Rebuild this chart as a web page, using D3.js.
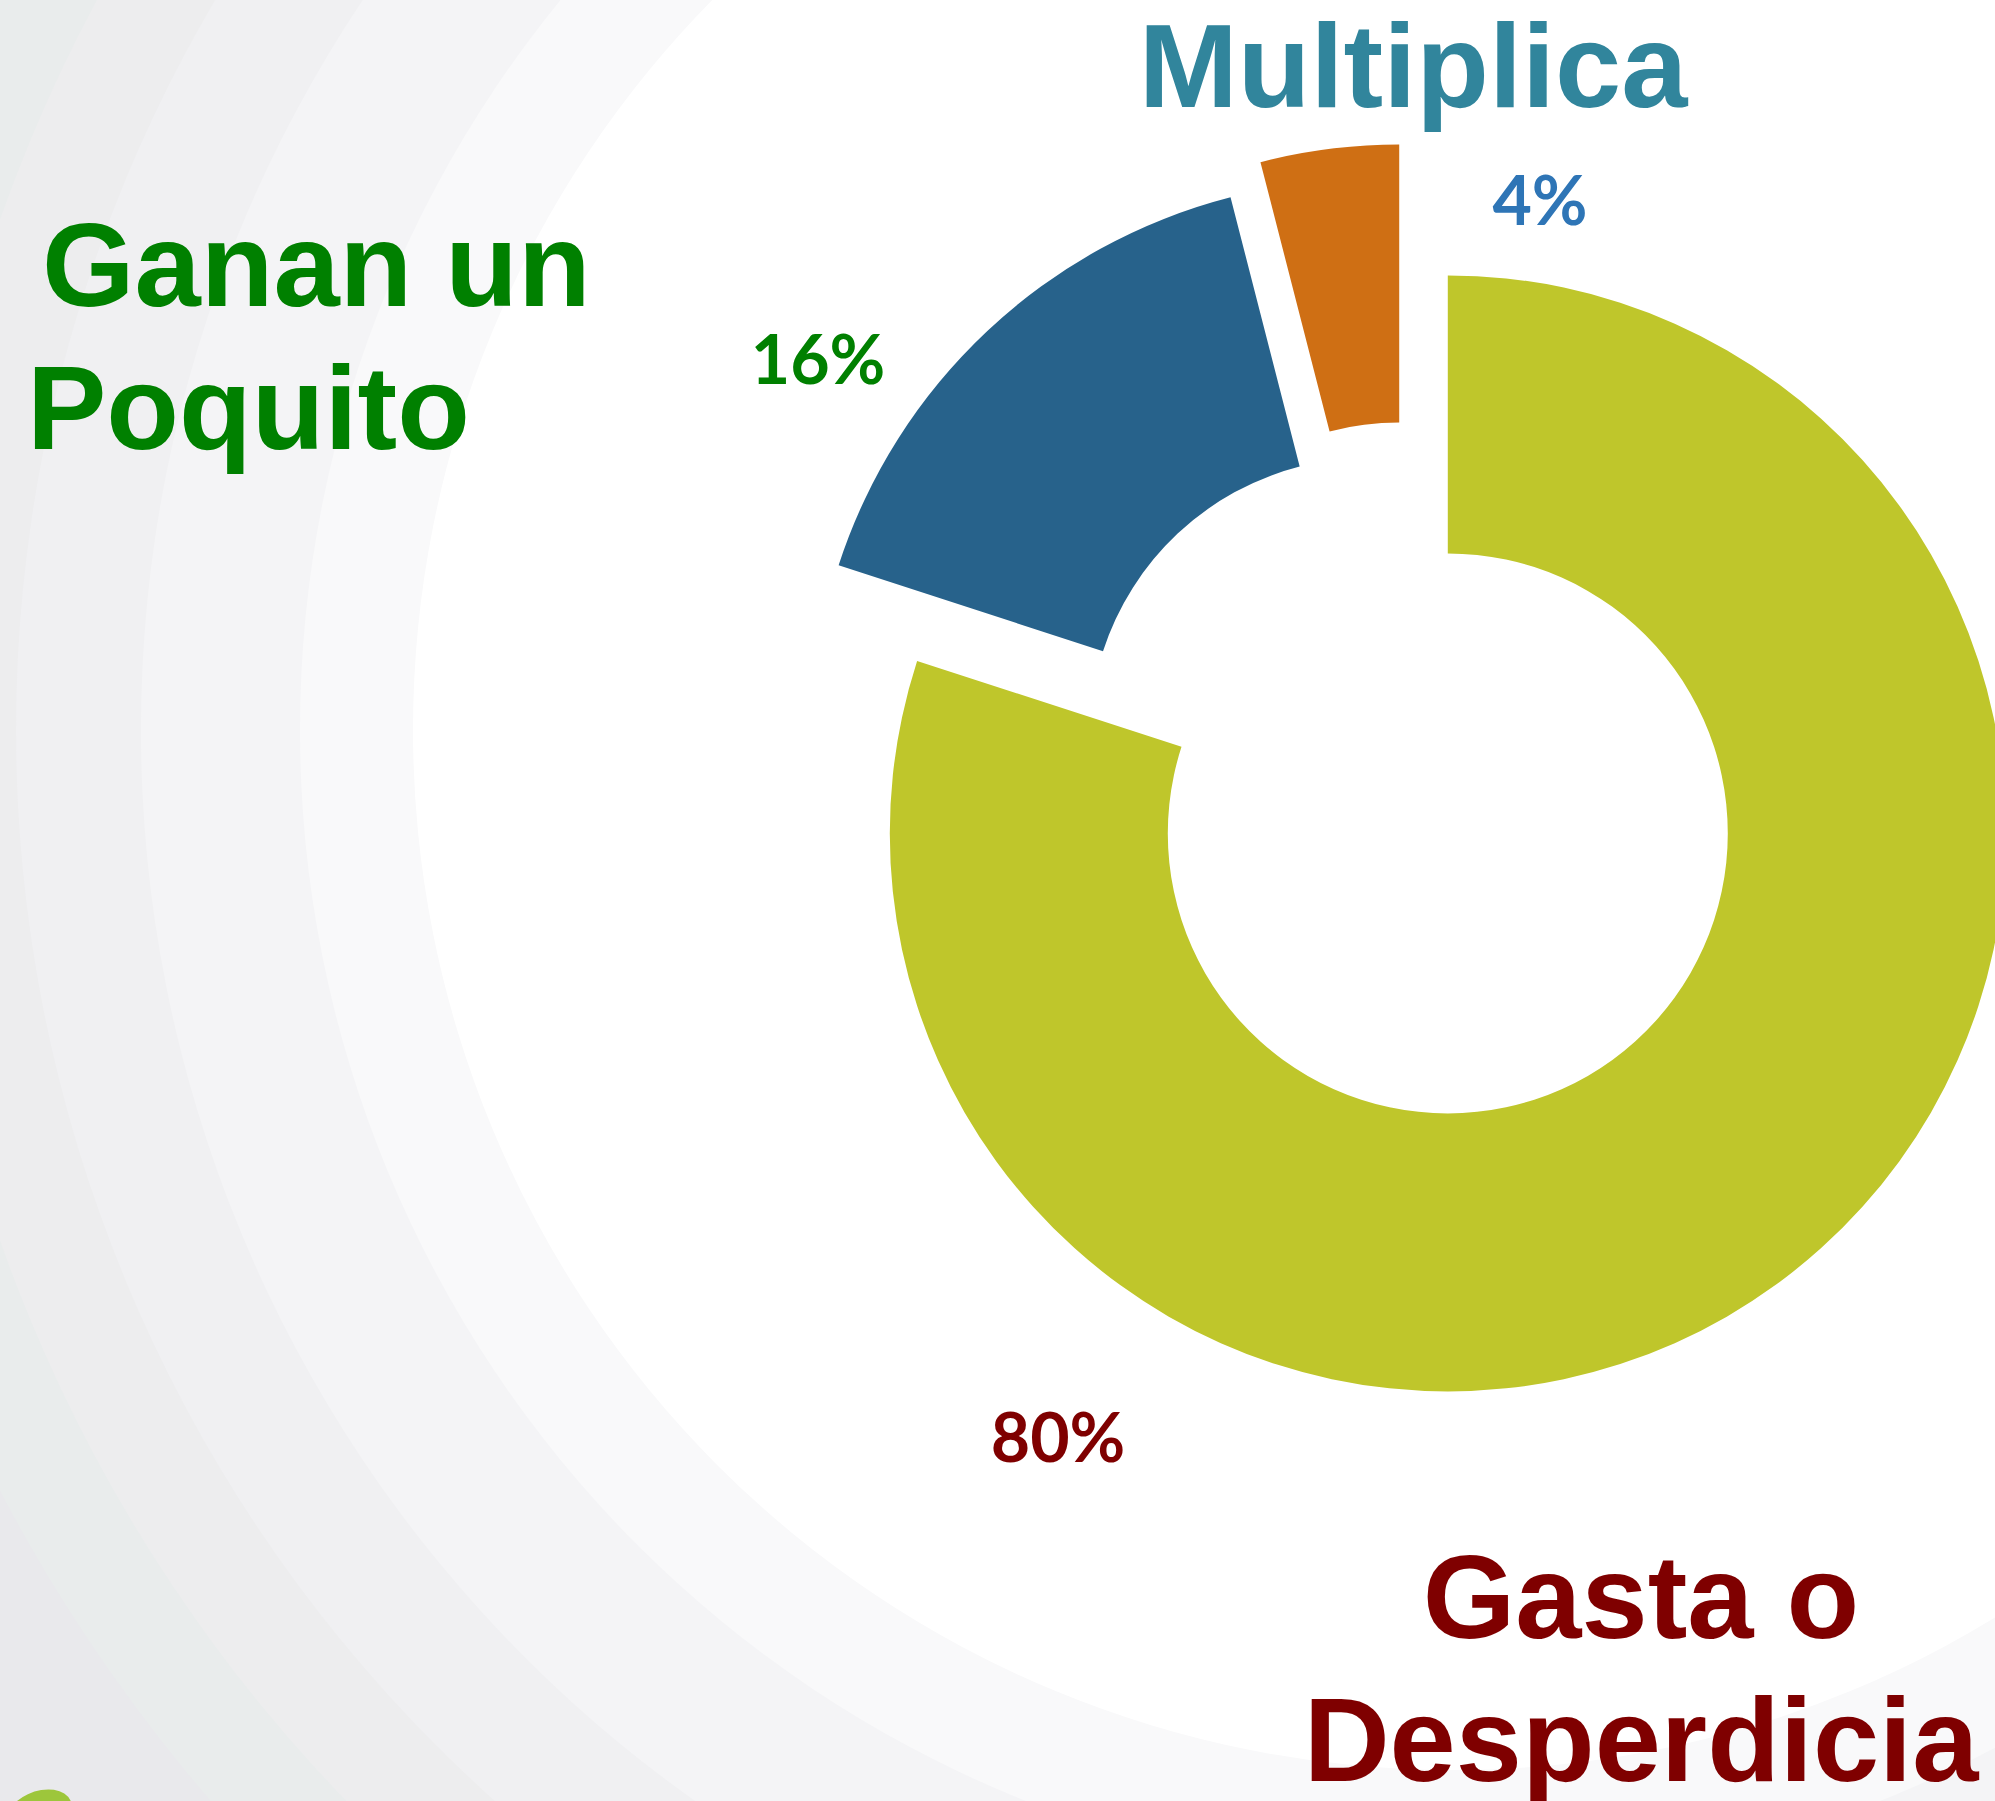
<!DOCTYPE html>
<html>
<head>
<meta charset="utf-8">
<script src="https://cdn.jsdelivr.net/npm/d3@7"></script>
<style>
    body { margin: 0; overflow: hidden; background: #ffffff; }
    #chart svg { display: block; }
</style>
</head>
<body>
<div id="chart"></div>
<script>
// Data (slice order = clockwise from 12 o'clock)
const categories = ["Gasta o Desperdicia", "Ganan un Poquito", "Multiplica"];
const values = [80, 16, 4];
const percentLabels = ["80%", "16%", "4%"];
const categoryLines = [["Gasta o", "Desperdicia"], ["Ganan un", "Poquito"], ["Multiplica"]];

// Styling
const sliceColors = ["#bfc62b", "#27628b", "#cf6f14"];
const percentColors = ["#7f0000", "#008000", "#2e75b6"];
const categoryColors = ["#7f0000", "#008000", "#31859c"];

const width = 1995, height = 1801;
const center = { x: 1409, y: 780 };
const outerRadius = 558, innerRadius = 280;
const explode = [66, 58, 78];   // pulled-out distance of each slice

// Label anchors (percentages and category titles)
const percentPos = [{ x: 1058, y: 1462 }, { x: 818, y: 384 }, { x: 1540, y: 225 }];
const categoryPos = [
    { x: 1641, y: 1638, anchor: "middle", dx: [0, 0] },
    { x: 27, y: 306, anchor: "start", dx: [15, 0] },
    { x: 1413, y: 107, anchor: "middle", dx: [0] }
];
const lineHeight = 143;

const svg = d3.select("#chart")
    .append("svg")
    .attr("width", width)
    .attr("height", height);

// Background: soft concentric bands
const bgCenter = { x: 1453, y: 730 };
const rings = [
    { r: 2100, fill: "#e9e9ec" },
    { r: 1640, fill: "#e9ecec" },
    { r: 1540, fill: "#ededee" },
    { r: 1437, fill: "#f0f0f2" },
    { r: 1312, fill: "#f4f4f6" },
    { r: 1153, fill: "#f9f9fa" },
    { r: 1040, fill: "#ffffff" }
];
svg.append("g")
    .selectAll("circle")
    .data(rings)
    .join("circle")
    .attr("cx", bgCenter.x)
    .attr("cy", bgCenter.y)
    .attr("r", d => d.r)
    .attr("fill", d => d.fill);

// little green leaf peeking in the bottom-left corner
svg.append("ellipse")
    .attr("cx", 38)
    .attr("cy", 1816)
    .attr("rx", 36)
    .attr("ry", 24)
    .attr("transform", "rotate(-25, 38, 1816)")
    .attr("fill", "#9dc63b");

// Donut
const pie = d3.pie().sort(null).value(d => d.value);
const arcs = pie(values.map((v, i) => ({ value: v, i: i })));

const arc = d3.arc()
    .innerRadius(innerRadius)
    .outerRadius(outerRadius);

const g = svg.append("g")
    .attr("transform", `translate(${center.x}, ${center.y})`);

g.selectAll("path")
    .data(arcs)
    .join("path")
    .attr("transform", d => {
        let mid = (d.startAngle + d.endAngle) / 2;
        let off = explode[d.index];
        return `translate(${Math.sin(mid) * off}, ${-Math.cos(mid) * off})`;
    })
    .attr("d", arc)
    .attr("fill", (d, i) => sliceColors[i]);

// Percentage labels
svg.append("g")
    .selectAll("text")
    .data(arcs)
    .join("text")
    .attr("x", (d, i) => percentPos[i].x)
    .attr("y", (d, i) => percentPos[i].y)
    .attr("text-anchor", "middle")
    .style("font-family", "Lato, 'Open Sans', sans-serif")
    .style("font-weight", "bold")
    .style("font-size", "68px")
    .attr("fill", (d, i) => percentColors[i])
    .text((d, i) => percentLabels[i]);

// Category titles
categories.forEach((c, i) => {
    let t = svg.append("text")
        .attr("text-anchor", categoryPos[i].anchor)
        .style("font-family", "'Liberation Sans', Arial, sans-serif")
        .style("font-weight", "bold")
        .style("font-size", "119px")
        .attr("fill", categoryColors[i]);
    categoryLines[i].forEach((line, j) => {
        t.append("tspan")
            .attr("x", categoryPos[i].x + categoryPos[i].dx[j])
            .attr("y", categoryPos[i].y + j * lineHeight)
            .text(line);
    });
});
</script>
</body>
</html>
